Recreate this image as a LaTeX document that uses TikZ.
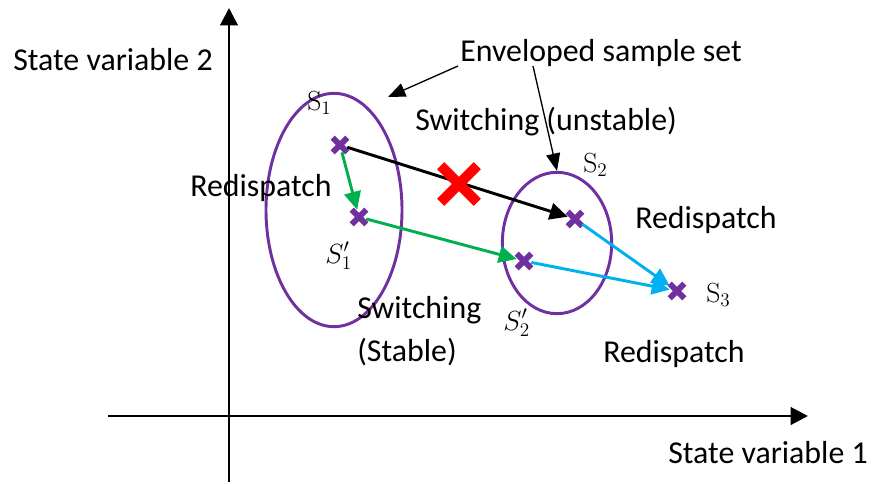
\documentclass[tikz,border=0pt]{standalone}
\usepackage[no-math]{fontspec}
\setmainfont{Carlito}
\usetikzlibrary{arrows.meta,shapes.geometric,shapes.misc}

\definecolor{envpurple}{RGB}{112,48,160}
\definecolor{movegreen}{RGB}{0,176,80}
\definecolor{moveblue}{RGB}{0,176,240}
\definecolor{failred}{RGB}{255,0,0}

\tikzset{
  lbl/.style={anchor=base west,inner sep=0pt,font=\fontsize{23.9}{28}\selectfont},
  symlbl/.style={anchor=base west,inner sep=0pt,font=\fontsize{21.5}{25}\selectfont},
  sample/.style={cross out,draw=envpurple,line width=4.4pt,minimum size=6.5pt,inner sep=0pt},
  envelope/.style={ellipse,draw=envpurple,line width=2.2pt,inner sep=0pt},
  axis/.style={line width=2.2pt,-{Triangle[length=13pt,width=13pt]}},
  move/.style={line width=2.2pt,-{Triangle[length=13.5pt,width=12.5pt]}},
  note/.style={line width=1pt,-{Triangle[length=13pt,width=10.5pt]}},
}

\begin{document}
\begin{tikzpicture}[x=0.75pt,y=0.75pt,yscale=-1,xscale=1]
\useasboundingbox (0,0) rectangle (873,483);

%Axes
\coordinate (yfoot) at (229,482);
\coordinate (ytip) at (229,8);
\coordinate (xfoot) at (108,416);
\coordinate (xtip) at (808,416);
\draw [axis] (yfoot) -- (ytip);
\draw [axis] (xfoot) -- (xtip);

%Enveloped sample sets
\node [envelope,minimum width=102pt,minimum height=175pt] (env1) at (334,210) {};
\node [envelope,minimum width=82pt,minimum height=106pt] (env2) at (557,243) {};

%Operating points
\node [sample] (s1) at (340,145) {};
\node [sample] (s1p) at (359,217) {};
\node [sample] (s2) at (575,219) {};
\node [sample] (s2p) at (524,261) {};
\node [sample] (s3) at (677,291) {};

%Moves between points
\draw [move] (s1) -- (s2);
\draw [move,movegreen] (s1) -- (s1p);
\draw [move,movegreen] (s1p) -- (s2p);
\draw [move,moveblue] (s2) -- (s3);
\draw [move,moveblue] (s2p) -- (s3);

%Failed switching
\node [cross out,draw=failred,line width=7.5pt,minimum size=20pt,inner sep=0pt] (fail) at (459,184) {};

% Text Node
\node [lbl] (ylabel) at (13,70) {State variable 2};
\node [lbl] (xlabel) at (668,463) {State variable 1};
\node [lbl] (envlabel) at (460,61) {Enveloped sample set};
\node [lbl] (unstable) at (415,130) {Switching (unstable)};
\node [lbl] (redisp1) at (190,196) {Redispatch};
\node [lbl] (redisp2) at (635,228) {Redispatch};
\node [lbl] (redisp3) at (603,362) {Redispatch};
\node [lbl] (stable1) at (357,318) {Switching};
\node [lbl] (stable2) at (357,361) {(Stable)};

% Point names
\node [symlbl] (s1name) at (307,110) {$\mathrm{S}_1$};
\node [symlbl] (s1pname) at (325,263) {$S_1'$};
\node [symlbl] (s2name) at (583,172) {$\mathrm{S}_2$};
\node [symlbl] (s2pname) at (503,330) {$S_2'$};
\node [symlbl] (s3name) at (706,302) {$\mathrm{S}_3$};

%Pointers to the envelopes
\coordinate (note1) at (458,66);
\coordinate (note2) at (533,66);
\coordinate (env1tip) at (388,97);
\draw [note] (note1) -- (env1tip);
\draw [note] (note2) -- (env2.north);

\end{tikzpicture}
\end{document}
